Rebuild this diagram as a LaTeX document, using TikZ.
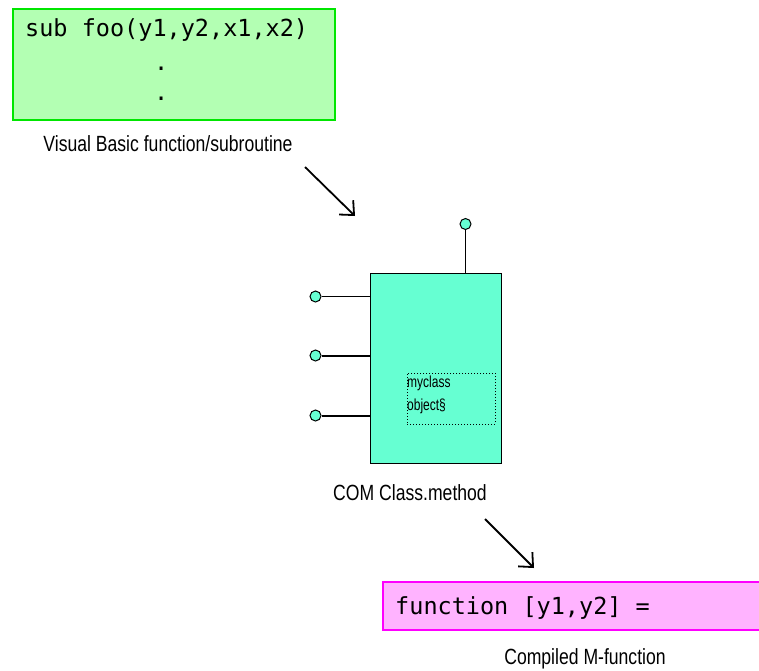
\documentclass[tikz,border=0pt]{standalone}
\usepackage{fontspec}
\usetikzlibrary{arrows.meta}
\newfontfamily\monof{DejaVu Sans Mono}
\newfontfamily\labf{Liberation Sans}[FakeStretch=0.8]
\newfontfamily\smallf{Liberation Sans}[FakeStretch=0.75]
\definecolor{vbfill}{HTML}{B3FFB3}
\definecolor{vbdraw}{HTML}{00E600}
\definecolor{mfill}{HTML}{FFB3FF}
\definecolor{mdraw}{HTML}{FF00FF}
\definecolor{comfill}{HTML}{66FFD2}
\begin{document}
\begin{tikzpicture}[x=1pt,y=-1pt,
  codebox/.style={draw, line width=2pt, inner sep=0pt, outer sep=0pt},
  code/.style={font=\monof\fontsize{23.5}{26}\selectfont, inner sep=0pt, anchor=base west},
  lab/.style={font=\labf\fontsize{22}{25}\selectfont, inner sep=0pt},
  small/.style={font=\smallf\fontsize{16}{18}\selectfont, inner sep=0pt, anchor=base west},
  flow/.style={line width=1.8pt, -{Straight Barb[length=11pt,width=20pt,line width=1.8pt]}},
  pin/.style={circle, draw, fill=comfill, line width=1pt, minimum size=11pt, inner sep=0pt},
  wire/.style={line width=1pt},
  thickwire/.style={line width=2pt}]
\useasboundingbox (0,0) rectangle (759,670);
% Visual Basic box
\node[codebox, fill=vbfill, draw=vbdraw, minimum width=322pt, minimum height=111pt, anchor=north west] (vb) at (13,9) {};
\node[code] (vbt) at (25,36) {sub foo(y1,y2,x1,x2)};
\node[code] (d1) at (154,70) {.};
\node[code] (d2) at (154,100) {.};
\node[lab] (vbl) at (168,144) {Visual Basic function/subroutine};
% arrow 1
\coordinate (a1s) at (305,167);
\coordinate (a1e) at (355,216);
\draw[flow] (a1s) -- (a1e);
% COM block
\node[draw, fill=comfill, line width=1pt, minimum width=131pt, minimum height=190pt, anchor=north west, inner sep=0pt] (com) at (369.5,272.5) {};
\node[draw, dotted, line width=1pt, minimum width=88pt, minimum height=51pt, anchor=north west, inner sep=0pt] (obj) at (406.5,372.5) {};
\node[small] (t1) at (407,387) {myclass};
\node[small] (t2) at (407,410) {object\S};
\node[pin] (ptop) at (465.5,224) {};
\node[pin] (p1) at (315.5,296.5) {};
\node[pin] (p2) at (315.5,355.5) {};
\node[pin] (p3) at (315.5,415.5) {};
\draw[wire] (ptop) -- (ptop |- com.north);
\draw[wire] (p1) -- (p1 -| com.west);
\draw[thickwire] (p2) -- (p2 -| com.west);
\draw[thickwire] (p3) -- (p3 -| com.west);
\node[lab] (coml) at (410,493) {COM Class.method};
% arrow 2
\coordinate (a2s) at (485,519);
\coordinate (a2e) at (534,568);
\draw[flow] (a2s) -- (a2e);
% M-function box
\node[codebox, fill=mfill, draw=mdraw, minimum width=380pt, minimum height=48pt, anchor=north west] (mf) at (383,582) {};
\node[code] (mft) at (395,614) {function [y1,y2] =};
\node[lab] (mfl) at (585,659) {Compiled M-function};
\end{tikzpicture}
\end{document}
